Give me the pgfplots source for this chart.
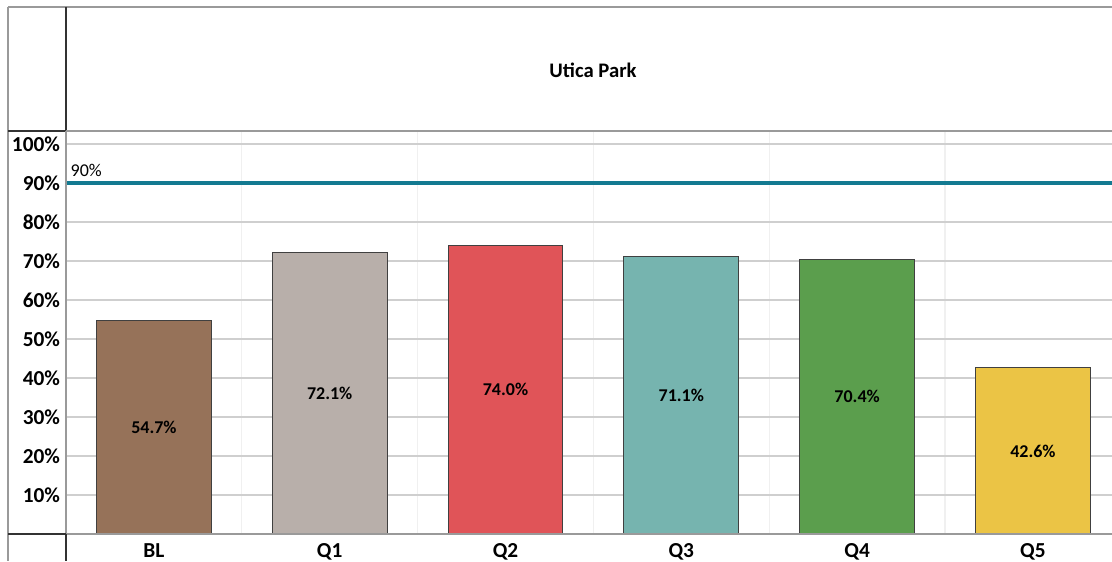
\documentclass[border=0pt]{standalone}
\usepackage{fontspec}
\setmainfont{Carlito}
\usepackage{pgfplots}
\pgfplotsset{compat=1.18}

\definecolor{cBL}{HTML}{967259}
\definecolor{cQ1}{HTML}{B8AFAA}
\definecolor{cQ2}{HTML}{E05458}
\definecolor{cQ3}{HTML}{76B4AF}
\definecolor{cQ4}{HTML}{5B9E4D}
\definecolor{cQ5}{HTML}{EBC445}
\definecolor{cLine}{HTML}{137A91}
\definecolor{frame}{HTML}{9A9A9A}
\definecolor{gridc}{HTML}{CFCFCF}

\pgfplotsset{
  mybar/.style={
    ybar, bar width=0.653, bar shift=0,
    draw=black!75, line width=0.75pt,
    visualization depends on=y \as \rawy,
    nodes near coords={\pgfmathprintnumber[fixed,fixed zerofill,precision=1]{\pgfplotspointmeta}\%},
    every node near coord/.append style={
      anchor=center, font=\bfseries\fontsize{13.5}{15}\selectfont, text=black,
      shift={(axis direction cs:0,-\rawy/2)}},
  }
}

\begin{document}
\begin{tikzpicture}
\useasboundingbox (0,0) rectangle (834pt,420.75pt);
\begin{axis}[
  at={(49.5pt,20.25pt)}, anchor=south west,
  scale only axis, width=784.5pt, height=302.25pt,
  xmin=-0.5, xmax=5.45, ymin=0, ymax=103.3,
  axis line style={draw=none},
  xtick={0,1,2,3,4,5},
  xticklabels={BL,Q1,Q2,Q3,Q4,Q5},
  minor xtick={0.5,1.5,2.5,3.5,4.5},
  ytick={10,20,...,100},
  yticklabel={\pgfmathprintnumber{\tick}\%},
  /pgf/number format/assume math mode=true,
  major tick length=0pt, minor tick length=0pt,
  ymajorgrids, xminorgrids,
  major grid style={draw=gridc, line width=1pt},
  minor grid style={draw=black!6, line width=0.8pt},
  tick label style={font=\bfseries\fontsize{16}{18}\selectfont},
  yticklabel style={xshift=-1pt},
  xticklabel style={yshift=-3.5pt},
  clip=false,
]
\addplot[mybar, fill=cBL] coordinates {(0,54.7)};
\addplot[mybar, fill=cQ1] coordinates {(1,72.1)};
\addplot[mybar, fill=cQ2] coordinates {(2,74.0)};
\addplot[mybar, fill=cQ3] coordinates {(3,71.1)};
\addplot[mybar, fill=cQ4] coordinates {(4,70.4)};
\addplot[mybar, fill=cQ5] coordinates {(5,42.6)};
\addplot[color=cLine, line width=3pt, sharp plot] coordinates {(-0.5,90) (5.45,90)}
  node[pos=0, anchor=south west, text=black, font=\fontsize{13.5}{15}\selectfont, inner sep=1pt, yshift=2.5pt, xshift=1pt] {90\%};
\end{axis}
\begin{scope}[x=0.75pt,y=0.75pt]
  % outer frame
  \draw[frame, line width=1pt] (8,554) -- (1112,554);
  \draw[frame, line width=1pt] (8,554) -- (8,0);
  % header separator and left column
  \draw[black!80, line width=1pt] (66,554) -- (66,430);
  \draw[black!80, line width=1pt] (8,430) -- (66,430);
  \draw[frame, line width=1pt] (66,430) -- (1112,430);
  \draw[frame, line width=1pt] (66,430) -- (66,27);
  \draw[frame, line width=1pt] (66,27) -- (1112,27);
  \draw[black!80, line width=1pt] (8,27) -- (66,27);
  \draw[black!80, line width=1pt] (66,27) -- (66,0);
  \node[font=\bfseries\fontsize{15.5}{17}\selectfont] at (593,491) {Utica Park};
\end{scope}
\end{tikzpicture}
\end{document}
